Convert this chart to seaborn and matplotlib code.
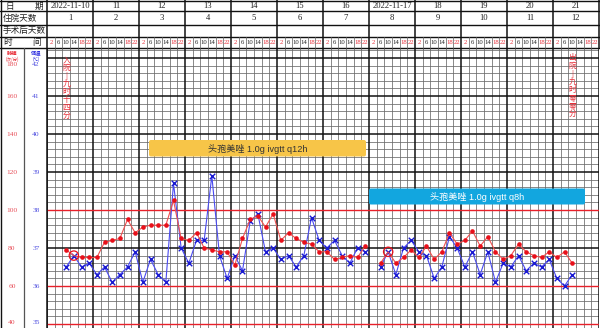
import numpy as np
import pandas as pd
import matplotlib
matplotlib.use("Agg")
import matplotlib.pyplot as plt
import seaborn as sns
from matplotlib.patches import FancyBboxPatch

# ---------------- data ----------------
dates = ["2022-11-10", "11", "12", "13", "14", "15", "16",
         "2022-11-17", "18", "19", "20", "21"]
hosp_days = ["1", "2", "3", "4", "5", "6", "7", "8", "9", "10", "11", "12"]
times = ["2", "6", "10", "14", "18", "22"]
time_red = ["2", "18", "22"]

slots_page1 = list(range(2, 42))
slots_page2 = list(range(43, 69))
temp_page1 = [36.5, 36.8, 36.5, 36.6, 36.3, 36.5, 36.1, 36.3, 36.5, 36.9,
              36.1, 36.7, 36.3, 36.1, 38.7, 37.0, 36.6, 37.2, 37.2, 38.9,
              36.8, 36.2, 36.8, 36.4, 37.7, 37.9, 36.9, 37.0, 36.7, 36.8,
              36.5, 36.8, 37.8, 37.2, 37.0, 37.2, 36.8, 36.6, 37.0, 36.9]
temp_page2 = [36.5, 36.9, 36.3, 37.0, 37.2, 36.9, 36.8, 36.2, 36.5, 37.3,
              37.0, 36.5, 36.9, 36.3, 36.9, 36.1, 36.6, 36.5, 36.8, 36.4,
              36.6, 36.5, 36.7, 36.2, 36.0, 36.3]
pulse_page1 = [79, 76, 75, 75, 75, 83, 84, 85, 95, 88,
               91, 92, 92, 92, 105, 85, 84, 88, 80, 79,
               78, 78, 71, 85, 95, 97, 91, 98, 84, 88,
               85, 83, 82, 78, 78, 74, 75, 76, 75, 81]
pulse_page2 = [72, 78, 72, 75, 79, 75, 81, 74, 78, 88,
               82, 84, 89, 81, 86, 78, 74, 76, 82, 78,
               76, 75, 78, 75, 78, 72]

drug1 = "头孢美唑 1.0g ivgtt q12h"
drug2 = "头孢美唑 1.0g ivgtt q8h"
admit_text = "入院—九时十四分"
discharge_text = "出院—九时零零分"

temp_ticks = [42, 41, 40, 39, 38, 37, 36, 35]
pulse_ticks = [180, 160, 140, 120, 100, 80, 60, 40]

df = pd.DataFrame({
    "slot": slots_page1 + slots_page2,
    "temp": temp_page1 + temp_page2,
    "pulse": pulse_page1 + pulse_page2,
    "page": [1] * len(slots_page1) + [2] * len(slots_page2),
})
df["x"] = df["slot"] + 0.5
df["overlap"] = np.isclose(df["pulse"], 20 * df["temp"] - 660, atol=0.6)

# ---------------- layout ----------------
sns.set_theme(style="white")
CJK = ["Noto Sans CJK SC", "DejaVu Sans"]
SERIF = ["Liberation Serif", "Noto Sans CJK SC"]
SANS = ["Liberation Sans", "Noto Sans CJK SC"]
plt.rcParams["font.family"] = CJK

W, H = 600, 328
fig = plt.figure(figsize=(W / 100, H / 100), dpi=100)
fig.patch.set_facecolor("white")
gx0, gx1, gy0 = 47, 599, 48
px_per_deg = 38.0
y37 = 248.0
t_top = 37 + (y37 - gy0) / px_per_deg
t_bot = 37 - (H - y37) / px_per_deg

ax = fig.add_axes([gx0 / W, 0, (gx1 - gx0) / W, (H - gy0) / H])
ax.set_xlim(0, 72)
ax.set_ylim(t_bot, t_top)
ax.axis("off")

# grid
for k in range(73):
    if k % 6 == 0:
        ax.axvline(k, color="#111111", lw=1.1, zorder=1)
    else:
        ax.axvline(k, color="#6a6a6a", lw=0.55, zorder=0.5)
for i, t in enumerate(np.arange(35.0, 42.21, 0.2)):
    t = round(t, 1)
    if abs(t - round(t)) < 1e-6:
        if int(round(t)) in (35, 36, 38):
            ax.axhline(t, color="#e8202a", lw=1.0, zorder=1.2)
        else:
            ax.axhline(t, color="#111111", lw=1.1, zorder=1.1)
    else:
        ax.axhline(t, color="#6a6a6a", lw=0.55, zorder=0.5)

# temperature series
sns.lineplot(data=df, x="x", y="temp", units="page", estimator=None,
             color="#4a4af0", lw=0.8, ax=ax, legend=False, zorder=3)
sns.scatterplot(data=df, x="x", y="temp", marker="x", color="#1a1ad0",
                s=16, linewidth=1.0, ax=ax, legend=False, zorder=4)
ax.set_xlabel("")
ax.set_ylabel("")

# pulse series on twin axis
ax2 = ax.twinx()
ax2.set_xlim(0, 72)
ax2.set_ylim(20 * t_bot - 660, 20 * t_top - 660)
sns.lineplot(data=df, x="x", y="pulse", units="page", estimator=None,
             color="#f05050", lw=0.8, ax=ax2, legend=False, zorder=3)
sns.scatterplot(data=df[~df["overlap"]], x="x", y="pulse", marker="o",
                color="#e8101a", s=11, linewidth=0, ax=ax2, legend=False, zorder=4)
sns.scatterplot(data=df[df["overlap"]], x="x", y="pulse", marker="o",
                facecolor="none", edgecolor="#e8101a", s=45, linewidth=0.9,
                ax=ax2, legend=False, zorder=5)
ax2.axis("off")
ax2.set_xlabel("")
ax2.set_ylabel("")

# vertical annotations
def vert(s):
    return "\n".join("|" if c == "—" else c for c in s)

ax2.text(df["x"].iloc[0], 20 * 42.05 - 660, vert(admit_text), color="#e8303a",
         fontsize=5.6, ha="center", va="top", linespacing=1.0, family=CJK, zorder=6)
ax2.text(df["x"].iloc[-1], 20 * 42.1 - 660, vert(discharge_text), color="#e8303a",
         fontsize=5.6, ha="center", va="top", linespacing=1.0, family=CJK, zorder=6)

# ---------------- overlay (header, left columns, boxes) ----------------
ov = fig.add_axes([0, 0, 1, 1])
ov.set_xlim(0, W)
ov.set_ylim(H, 0)
ov.axis("off")

day_w = (gx1 - gx0) / 12
slot_w = day_w / 6
for y in (0.5, 11, 25, 37, 48):
    ov.plot([0, W], [y, y], color="#111111", lw=1.0)
ov.plot([0.5, 0.5], [0, H], color="#111111", lw=1.0)
ov.plot([gx0, gx0], [0, H], color="#111111", lw=1.1)
ov.plot([24, 24], [gy0, H], color="#555555", lw=0.9)
for k in range(1, 13):
    x = gx0 + k * day_w
    ov.plot([x, x], [0, gy0], color="#111111", lw=1.1)
for j in range(72):
    if j % 6:
        x = gx0 + j * slot_w
        ov.plot([x, x], [37, gy0], color="#6a6a6a", lw=0.55)

# left header
ov.text(10, 6, "日", fontsize=6.2, ha="center", va="center", color="#222")
ov.text(39, 6, "期", fontsize=6.2, ha="center", va="center", color="#222")
ov.text(3, 18, "住院天数", fontsize=6.2, ha="left", va="center", color="#222")
ov.text(3, 31, "手术后天数", fontsize=6.2, ha="left", va="center", color="#222")
ov.text(8, 43, "时", fontsize=6.2, ha="center", va="center", color="#222")
ov.text(37, 43, "间", fontsize=6.2, ha="center", va="center", color="#222")

for k, (d, h) in enumerate(zip(dates, hosp_days)):
    cx = gx0 + (k + 0.5) * day_w
    ov.text(cx, 6, d, fontsize=6.2, ha="center", va="center", family=SERIF, color="#222")
    ov.text(cx, 18.5, h, fontsize=6.2, ha="center", va="center", family=SERIF, color="#222")
    for j, t in enumerate(times):
        sx = gx0 + k * day_w + (j + 0.5) * slot_w
        ov.text(sx, 43, t, fontsize=4.8, ha="center", va="center", family=SERIF,
                color="#e8303a" if t in time_red else "#222")

# left scale columns
ov.text(12, 53, "脉搏", fontsize=3.8, ha="center", va="center", color="#e8303a", weight="bold")
ov.text(12, 59, "(次/分)", fontsize=3.2, ha="center", va="center", color="#e8303a")
ov.text(36, 53, "体温", fontsize=3.8, ha="center", va="center", color="#3030e0", weight="bold")
ov.text(36, 59, "(℃)", fontsize=3.2, ha="center", va="center", color="#3030e0")
for t, p in zip(temp_ticks, pulse_ticks):
    y = y37 - (t - 37) * px_per_deg
    if t == 42:
        y += 7
    if t == 35:
        y -= 1
    ov.text(12, y, str(p), fontsize=5.4, ha="center", va="center", family=SERIF, color="#e8505a")
    ov.text(36, y, str(t), fontsize=5.4, ha="center", va="center", family=SERIF, color="#5050e0")

# drug boxes
b1 = FancyBboxPatch((149, 140), 217, 16.5, boxstyle="round,pad=0,rounding_size=2",
                    fc="#f7c548", ec="none", zorder=5)
ov.add_patch(b1)
ov.text(257.5, 148.5, drug1, fontsize=6.6, ha="center", va="center", family=SANS,
        color="#333333", zorder=6)
b2 = FancyBboxPatch((369, 188.5), 216, 16, boxstyle="round,pad=0,rounding_size=2",
                    fc="#12a6df", ec="none", zorder=5)
ov.add_patch(b2)
ov.text(477, 196.5, drug2, fontsize=6.6, ha="center", va="center", family=SANS,
        color="white", zorder=6)

fig.savefig("out.png", dpi=100, facecolor="white")
